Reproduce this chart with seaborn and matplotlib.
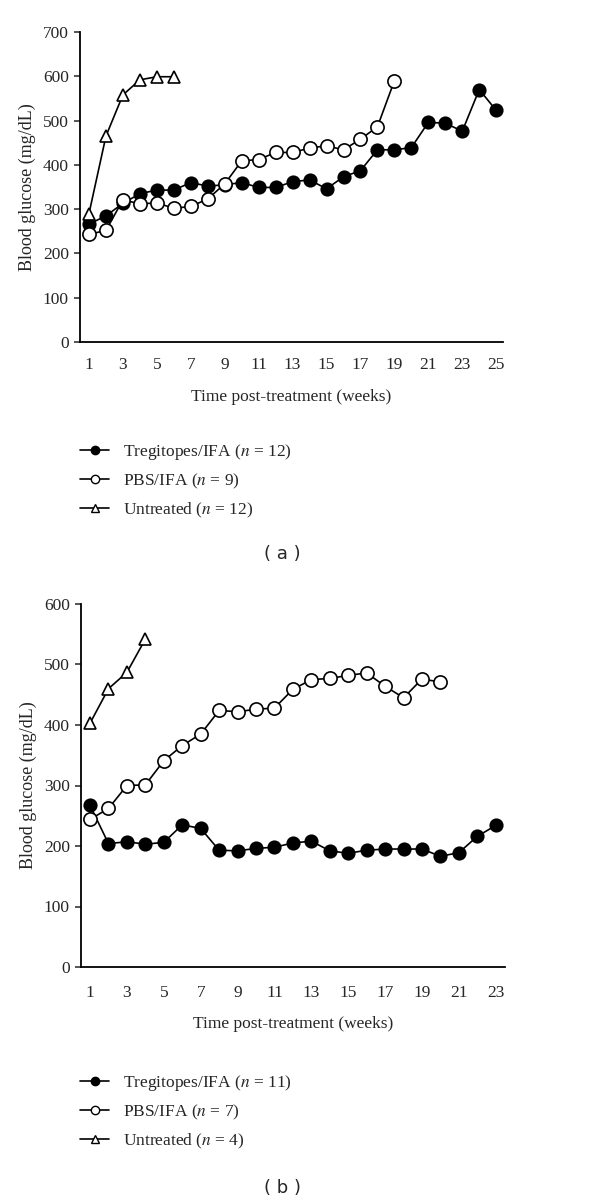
import numpy as np
import pandas as pd
import matplotlib
matplotlib.use("Agg")
import matplotlib.pyplot as plt
import seaborn as sns
from matplotlib.lines import Line2D

# Panel (a) data
weeks_a_treg = list(range(1, 26))
treg_a = [266, 285, 313, 335, 343, 343, 360, 352, 355, 360, 349, 349, 362, 366,
          346, 373, 387, 434, 434, 439, 496, 494, 476, 570, 523]
weeks_a_pbs = list(range(1, 20))
pbs_a = [243, 252, 321, 312, 314, 302, 306, 323, 357, 409, 412, 428, 428, 438,
         443, 434, 458, 486, 590]
weeks_a_untr = list(range(1, 7))
untr_a = [290, 465, 558, 592, 599, 599]

# Panel (b) data
weeks_b_treg = list(range(1, 24))
treg_b = [267, 204, 207, 203, 206, 235, 229, 193, 192, 196, 198, 205, 208, 192,
          188, 193, 195, 195, 195, 183, 189, 216, 234]
weeks_b_pbs = list(range(1, 21))
pbs_b = [244, 262, 300, 301, 341, 366, 385, 424, 422, 426, 428, 459, 475, 477,
         482, 486, 464, 445, 476, 471]
weeks_b_untr = list(range(1, 5))
untr_b = [403, 460, 487, 542]

labels_a = ["Tregitopes/IFA ($n$ = 12)", "PBS/IFA ($n$ = 9)", "Untreated ($n$ = 12)"]
labels_b = ["Tregitopes/IFA ($n$ = 11)", "PBS/IFA ($n$ = 7)", "Untreated ($n$ = 4)"]

sns.set_style("ticks")
plt.rcParams["font.family"] = ["Liberation Serif", "DejaVu Serif"]
plt.rcParams["mathtext.fontset"] = "stix"

fig = plt.figure(figsize=(6, 12.03), dpi=100)

styles = [
    dict(marker="o", markerfacecolor="black", markeredgecolor="black", markersize=9),
    dict(marker="o", markerfacecolor="white", markeredgecolor="black", markersize=9.5),
    dict(marker="^", markerfacecolor="white", markeredgecolor="black", markersize=9),
]


def draw_panel(rect, series, ylim, xlim, xticks, labels, legend_top, tag, tag_y,
               xpad, xlabelpad):
    ax = fig.add_axes(rect)
    for (x, y), st in zip(series, styles):
        df = pd.DataFrame({"week": x, "glucose": y})
        sns.lineplot(data=df, x="week", y="glucose", ax=ax, color="black",
                     linewidth=1.2, markeredgewidth=1.2, **st)
    ax.set_ylim(*ylim)
    ax.set_xlim(*xlim)
    ax.set_yticks(np.arange(0, ylim[1] + 1, 100))
    ax.set_xticks(xticks)
    sns.despine(ax=ax)
    for s in ["left", "bottom"]:
        ax.spines[s].set_linewidth(1.3)
        ax.spines[s].set_color("black")
    ax.tick_params(axis="y", length=4, width=1.1, labelsize=12.5, pad=4)
    ax.tick_params(axis="x", length=0, labelsize=12.5, pad=xpad)
    ax.set_xlabel("Time post-treatment (weeks)", fontsize=12.5, labelpad=xlabelpad)
    ax.set_ylabel("Blood glucose (mg/dL)", fontsize=13, labelpad=5)

    handles = [Line2D([], [], color="black", linewidth=1.2, markeredgewidth=1.0,
                      **{**st, "markersize": 6}) for st in styles]
    fig.legend(handles, labels, loc="upper left",
               bbox_to_anchor=(0.133, legend_top), frameon=False,
               fontsize=12.5, handlelength=1.7, handletextpad=0.8,
               labelspacing=0.55, borderpad=0, borderaxespad=0)
    fig.text(282 / 600, tag_y, tag, ha="center", va="center",
             fontsize=13, family="DejaVu Sans")
    return ax


draw_panel([80 / 600, 1 - 342 / 1203, 423 / 600, 310 / 1203],
           [(weeks_a_treg, treg_a), (weeks_a_pbs, pbs_a), (weeks_a_untr, untr_a)],
           (0, 700), (0.47, 25.4), list(range(1, 26, 2)), labels_a,
           1 - 442 / 1203, "( a )", 1 - 554 / 1203, 11, 11)

draw_panel([81 / 600, 1 - 967 / 1203, 424 / 600, 363 / 1203],
           [(weeks_b_treg, treg_b), (weeks_b_pbs, pbs_b), (weeks_b_untr, untr_b)],
           (0, 600), (0.51, 23.5), list(range(1, 24, 2)), labels_b,
           1 - 1073 / 1203, "( b )", 1 - 1188 / 1203, 13, 11)

fig.savefig("out.png", dpi=100)
